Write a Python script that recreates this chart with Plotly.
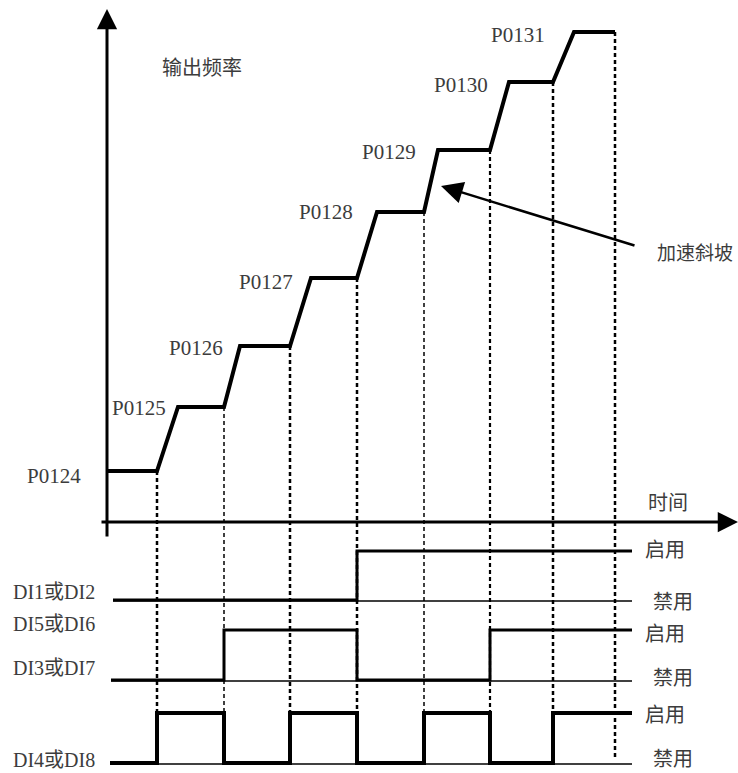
import plotly.graph_objects as go

# ---- data (diagram coordinates: time -> x, level -> y, y grows downward) ----
switch_t = [157, 224, 290, 357, 424, 490, 553, 615]          # end of each constant-speed stage
ramp_end_t = [108, 178, 240, 311, 377, 438, 509, 574]        # start of each constant-speed stage
freq_level = [471, 407, 346, 278, 212, 150, 82, 32]          # output frequency level of each stage
freq_labels = ["P0124", "P0125", "P0126", "P0127", "P0128", "P0129", "P0130", "P0131"]
freq_label_right = [83, 168, 225, 295, 355, 418, 490, 547]
freq_label_y = [476, 408, 348, 282, 212, 152, 85, 35]

# digital input states per stage (1 = enabled)
di1_state = [0, 0, 0, 0, 1, 1, 1, 1]
di3_state = [0, 0, 1, 1, 0, 0, 1, 1]
di4_state = [0, 1, 0, 1, 0, 1, 0, 1]

sig_start = [113, 111, 110]
sig_end = 632
sig_high = [551, 630, 713]
sig_low = [600, 680, 763]
sig_names_left = ["DI1或DI2", "DI3或DI7", "DI4或DI8"]
extra_left = "DI5或DI6"
on_label, off_label = "启用", "禁用"

dash_widths = [2.5, 1.5, 2.5, 2.5, 1.5, 2.2, 2.5, 2.5]

TXT = "#3c3c3c"
SERIF = "Liberation Serif, Noto Sans CJK SC"
CJK = "Noto Sans CJK SC"

fig = go.Figure()

# dashed guide lines
for t, lvl, w in zip(switch_t, freq_level, dash_widths):
    fig.add_trace(go.Scatter(x=[t, t], y=[lvl, 760], mode="lines",
                             line=dict(color="black", width=w, dash="4px,3px"),
                             hoverinfo="skip", showlegend=False))

# staircase of output frequency
sx, sy = [], []
for i in range(len(freq_level)):
    sx += [ramp_end_t[i], switch_t[i]]
    sy += [freq_level[i], freq_level[i]]
fig.add_trace(go.Scatter(x=sx, y=sy, mode="lines",
                         line=dict(color="black", width=4),
                         hoverinfo="skip", showlegend=False))

# digital signals
def signal_path(states, start, hi, lo):
    xs, ys = [start], [hi if states[0] else lo]
    for i, s in enumerate(states):
        y = hi if s else lo
        t0 = start if i == 0 else switch_t[i - 1]
        if i > 0:
            xs.append(t0); ys.append(ys[-1])
            xs.append(t0); ys.append(y)
        t1 = switch_t[i] if i < len(states) - 1 else sig_end
        xs.append(t1); ys.append(y)
    return xs, ys

for states, st, hi, lo, w in zip([di1_state, di3_state, di4_state], sig_start, sig_high, sig_low, [3, 3, 4]):
    # thin reference baseline
    fig.add_trace(go.Scatter(x=[st, sig_end], y=[lo + 1, lo + 1], mode="lines",
                             line=dict(color="black", width=1.6),
                             hoverinfo="skip", showlegend=False))
    xs, ys = signal_path(states, st, hi, lo)
    fig.add_trace(go.Scatter(x=xs, y=ys, mode="lines",
                             line=dict(color="black", width=w),
                             hoverinfo="skip", showlegend=False))

ann = []
# axes with arrows
ann.append(dict(x=738, y=522, ax=100, ay=522, xref="x", yref="y", axref="x", ayref="y",
                showarrow=True, arrowhead=2, arrowwidth=3, arrowsize=1.35, arrowcolor="black", text=""))
ann.append(dict(x=107, y=9, ax=107, ay=538, xref="x", yref="y", axref="x", ayref="y",
                showarrow=True, arrowhead=2, arrowwidth=3, arrowsize=1.35, arrowcolor="black", text=""))
# acceleration ramp arrow
ann.append(dict(x=441, y=186, ax=636, ay=246, xref="x", yref="y", axref="x", ayref="y",
                showarrow=True, arrowhead=2, arrowwidth=2.5, arrowsize=1.75, arrowcolor="black", text=""))

for lab, xr, yy in zip(freq_labels, freq_label_right, freq_label_y):
    ann.append(dict(x=xr, y=yy, text=lab, showarrow=False, xanchor="right", yanchor="middle",
                    font=dict(family=SERIF, size=21, color=TXT)))

ann.append(dict(x=160, y=66, text="输出频率", showarrow=False, xanchor="left", yanchor="middle",
                font=dict(family=CJK, size=20, color=TXT)))
ann.append(dict(x=646, y=501, text="时间", showarrow=False, xanchor="left", yanchor="middle",
                font=dict(family=CJK, size=20, color=TXT)))
ann.append(dict(x=655, y=251, text="加速斜坡", showarrow=False, xanchor="left", yanchor="middle",
                font=dict(family=CJK, size=19, color=TXT)))

left_y = [592, 668, 760]
for name, yy in zip(sig_names_left, left_y):
    ann.append(dict(x=11, y=yy, text=name, showarrow=False, xanchor="left", yanchor="middle",
                    font=dict(family=SERIF, size=20, color=TXT)))
ann.append(dict(x=11, y=624, text=extra_left, showarrow=False, xanchor="left", yanchor="middle",
                font=dict(family=SERIF, size=20, color=TXT)))

on_y = [548, 632, 713]
off_y = [600, 676, 757]
for yy in on_y:
    ann.append(dict(x=643, y=yy, text=on_label, showarrow=False, xanchor="left", yanchor="middle",
                    font=dict(family=CJK, size=20, color=TXT)))
for yy in off_y:
    ann.append(dict(x=651, y=yy, text=off_label, showarrow=False, xanchor="left", yanchor="middle",
                    font=dict(family=CJK, size=20, color=TXT)))

fig.update_layout(
    width=738, height=773,
    margin=dict(l=0, r=0, t=0, b=0),
    paper_bgcolor="white", plot_bgcolor="white",
    xaxis=dict(range=[0, 738], visible=False, fixedrange=True),
    yaxis=dict(range=[773, 0], visible=False, fixedrange=True),
    annotations=ann,
    showlegend=False,
)

fig.write_html("out.html", config={"displayModeBar": False},
               post_script="document.body.style.margin='0px';document.body.style.overflow='hidden';")
